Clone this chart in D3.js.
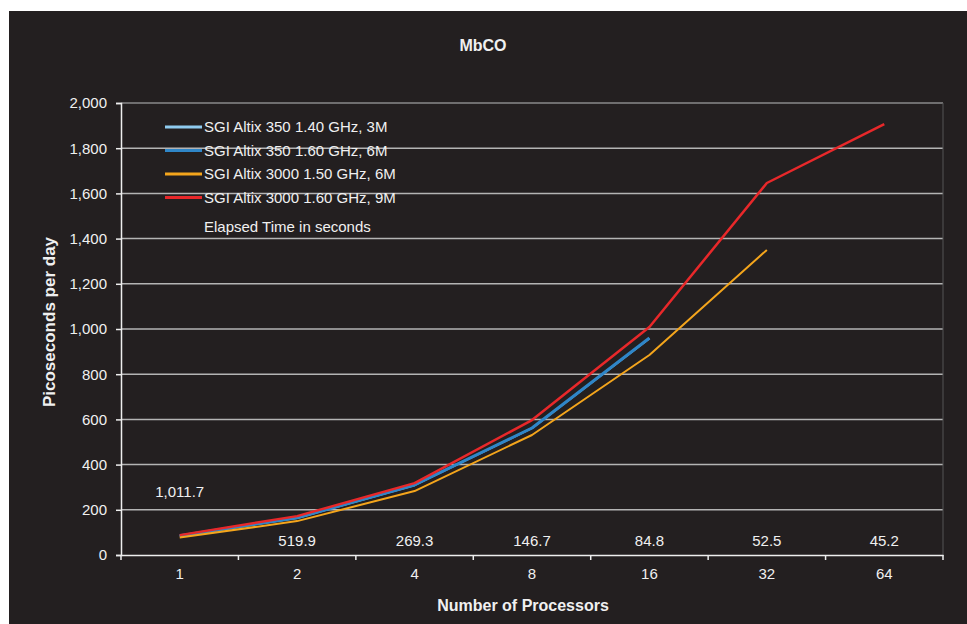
<!DOCTYPE html>
<html>
<head>
<meta charset="utf-8">
<script src="https://cdn.jsdelivr.net/npm/d3@7"></script>
<style>
  body { margin: 0; background: #fff; }
  svg text { font-family: "Liberation Sans", Arial, sans-serif; fill: #f0f0f0; }
</style>
</head>
<body>
<svg id="chart" width="967" height="624"></svg>
<script>
// categories (processors)
var processors = ["1", "2", "4", "8", "16", "32", "64"];
// picoseconds per day
var altix350_140 = [85, 164, 309, 561, 958, null, null];
var altix350_160 = [85, 165, 310, 562, 960, null, null];
var altix3000_150 = [77, 150, 283, 531, 885, 1350, null];
var altix3000_160 = [88, 172, 318, 597, 1009, 1646, 1907];
// elapsed time labels
var elapsed = ["1,011.7", "519.9", "269.3", "146.7", "84.8", "52.5", "45.2"];
var yTicks = [0, 200, 400, 600, 800, 1000, 1200, 1400, 1600, 1800, 2000];

var series = [
  {name: "SGI Altix 350 1.40 GHz, 3M", values: altix350_140, color: "#8fcbef", w: 2},
  {name: "SGI Altix 350 1.60 GHz, 6M", values: altix350_160, color: "#2f86c8", w: 3},
  {name: "SGI Altix 3000 1.50 GHz, 6M", values: altix3000_150, color: "#f4a51c", w: 2},
  {name: "SGI Altix 3000 1.60 GHz, 9M", values: altix3000_160, color: "#e8282a", w: 2.5}
];

var svg = d3.select("#chart");
var m = {left: 121, right: 943, top: 103, bottom: 555};
var font = "Liberation Sans, Arial, sans-serif";

svg.append("rect")
  .attr("x", 9).attr("y", 11)
  .attr("width", 967 - 9).attr("height", 624 - 11)
  .attr("fill", "#231f20");

var x = d3.scaleBand().domain(processors).range([m.left, m.right]);
var y = d3.scaleLinear().domain([0, 2000]).range([m.bottom, m.top]);

// gridlines
svg.append("g").selectAll("line")
  .data(yTicks.filter(function(d) { return d > 0; }))
  .enter().append("line")
  .attr("x1", m.left).attr("x2", m.right)
  .attr("y1", function(d) { return y(d); }).attr("y2", function(d) { return y(d); })
  .attr("stroke", function(d) { return d == 2000 ? "#8a8a8a" : "#b4b4b4"; })
  .attr("stroke-width", 1.5);

// right border of plot area
svg.append("line")
  .attr("x1", m.right).attr("x2", m.right)
  .attr("y1", m.top).attr("y2", m.bottom)
  .attr("stroke", "#555").attr("stroke-width", 1);

// y axis
var yAxis = svg.append("g")
  .attr("transform", "translate(" + m.left + ",0)")
  .call(d3.axisLeft(y).tickValues(yTicks).tickSize(5).tickPadding(9).tickFormat(d3.format(",")));
yAxis.select(".domain").attr("stroke", "#eee").attr("stroke-width", 1.5);
yAxis.selectAll(".tick line").attr("stroke", "#eee").attr("stroke-width", 1.5);
yAxis.selectAll("text").attr("font-size", 15).style("fill", "#f0f0f0").attr("font-family", font);

// x axis
var xAxis = svg.append("g")
  .attr("transform", "translate(0," + m.bottom + ")")
  .call(d3.axisBottom(x).tickSize(0).tickPadding(13));
xAxis.select(".domain").attr("stroke", "#eee").attr("stroke-width", 1.5);
xAxis.selectAll("text").attr("font-size", 15).style("fill", "#f0f0f0").attr("font-family", font);
// tick marks between categories
xAxis.append("g").selectAll("line")
  .data(processors.concat(["end"]))
  .enter().append("line")
  .attr("x1", function(d, i) { return m.left + i * x.step(); })
  .attr("x2", function(d, i) { return m.left + i * x.step(); })
  .attr("y1", 0).attr("y2", 5)
  .attr("stroke", "#eee").attr("stroke-width", 1.5);

// lines
var line = d3.line()
  .defined(function(d) { return d.v != null; })
  .x(function(d) { return x(d.p) + x.bandwidth() / 2; })
  .y(function(d) { return y(d.v); });

svg.append("g").selectAll("path")
  .data(series)
  .enter().append("path")
  .attr("fill", "none")
  .attr("stroke", function(d) { return d.color; })
  .attr("stroke-width", function(d) { return d.w; })
  .attr("stroke-linejoin", "round")
  .attr("d", function(s) {
    return line(s.values.map(function(v, i) { return {p: processors[i], v: v}; }));
  });

// elapsed time labels
svg.append("g").selectAll("text")
  .data(elapsed)
  .enter().append("text")
  .attr("x", function(d, i) { return x(processors[i]) + x.bandwidth() / 2; })
  .attr("y", function(d, i) { return i == 0 ? 497 : 546; })
  .attr("text-anchor", "middle")
  .attr("font-size", 15)
  .text(function(d) { return d; });

// legend
var legend = svg.append("g").attr("transform", "translate(165,127)");
var items = legend.selectAll("g")
  .data(series.concat([{name: "Elapsed Time in seconds", color: null}]))
  .enter().append("g")
  .attr("transform", function(d, i) { return "translate(0," + (i * 23.5 + (i == 4 ? 6 : 0)) + ")"; });
items.filter(function(d) { return d.color; }).append("line")
  .attr("x1", 0).attr("x2", 37).attr("y1", 0).attr("y2", 0)
  .attr("stroke", function(d) { return d.color; })
  .attr("stroke-width", 3);
items.append("text")
  .attr("x", 39).attr("y", 5)
  .attr("font-size", 15)
  .text(function(d) { return d.name; });

// titles
svg.append("text")
  .attr("x", 483).attr("y", 51)
  .attr("text-anchor", "middle")
  .attr("font-size", 16).attr("font-weight", "bold")
  .text("MbCO");
svg.append("text")
  .attr("x", 523).attr("y", 611)
  .attr("text-anchor", "middle")
  .attr("font-size", 16).attr("font-weight", "bold")
  .text("Number of Processors");
svg.append("text")
  .attr("transform", "translate(55,322) rotate(-90)")
  .attr("text-anchor", "middle")
  .attr("font-size", 17).attr("font-weight", "bold")
  .text("Picoseconds per day");
</script>
</body>
</html>
